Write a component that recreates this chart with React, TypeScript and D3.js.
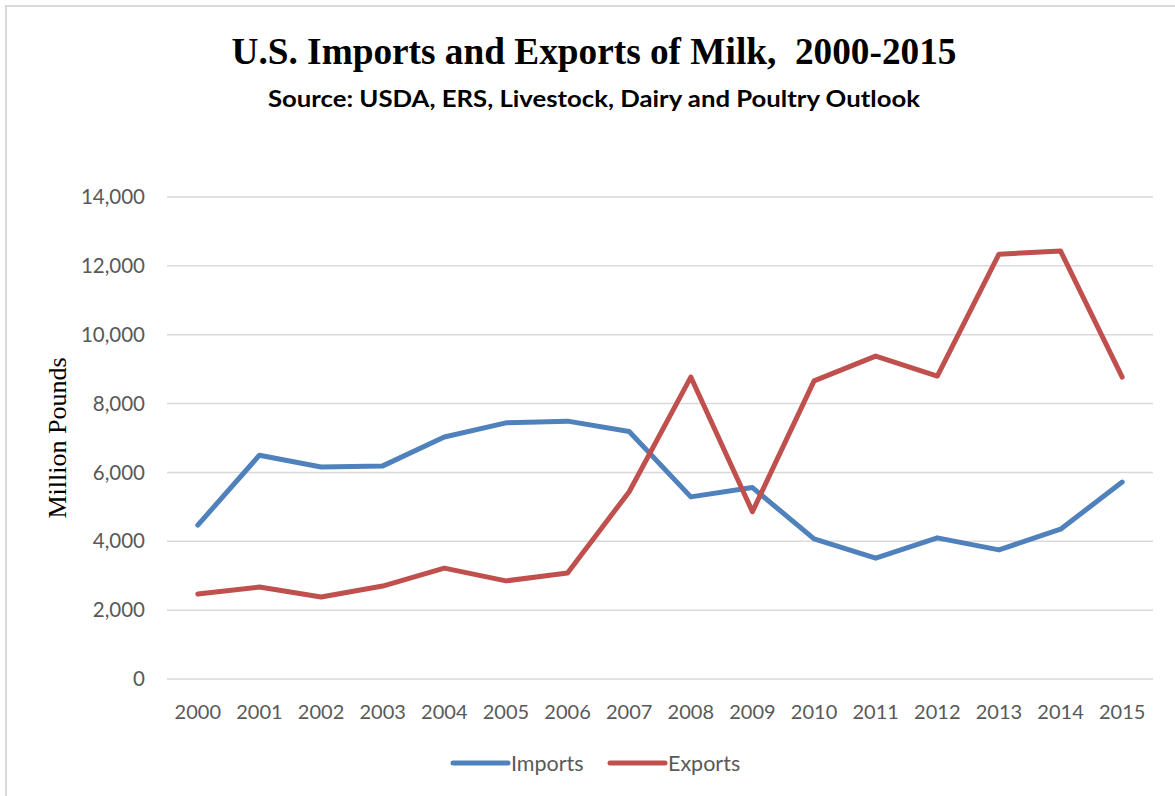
import React from "react";
import * as d3 from "d3";

const years = ["2000","2001","2002","2003","2004","2005","2006","2007","2008","2009","2010","2011","2012","2013","2014","2015"];
const imports = [4470, 6500, 6160, 6190, 7030, 7440, 7490, 7190, 5290, 5560, 4070, 3510, 4100, 3750, 4350, 5720];
const exports = [2470, 2670, 2380, 2700, 3220, 2850, 3080, 5440, 8770, 4860, 8660, 9380, 8800, 12340, 12430, 8770];
const yTicks = [0, 2000, 4000, 6000, 8000, 10000, 12000, 14000];
const seriesNames = ["Imports", "Exports"];
const seriesColors = ["#4f81bd", "#c0504d"];

const W = 1175, H = 796;
const left = 167, right = 1153, top = 197, bottom = 679;

export default function App() {
  const x = d3.scaleBand<string>().domain(years).range([left, right]);
  const y = d3.scaleLinear().domain([0, 14000]).range([bottom, top]);
  const line = d3.line<number>()
    .x((_, i) => (x(years[i]) as number) + x.bandwidth() / 2)
    .y((d) => y(d));
  const fmt = d3.format(",");
  const series = [imports, exports];
  const legendX = [453, 610];
  return (
    <svg width={W} height={H} style={{ position: "absolute", left: 0, top: 0, background: "#fff" }}>
      <rect x={0} y={0} width={W} height={H} fill="#fff" />
      <rect x={6} y={6} width={W + 10} height={H + 10} fill="none" stroke="#d9d9d9" strokeWidth={2} />
      <text x={594} y={64} textAnchor="middle" fontFamily="'Liberation Serif', 'DejaVu Serif', serif" fontWeight="bold" fontSize={38} fill="#000" textLength={725} lengthAdjust="spacingAndGlyphs" style={{ whiteSpace: "pre" }}>{"U.S. Imports and Exports of Milk,  2000-2015"}</text>
      <text x={594} y={107} textAnchor="middle" fontFamily="Lato, 'Open Sans', sans-serif" fontWeight="bold" fontSize={22} fill="#000" textLength={652} lengthAdjust="spacingAndGlyphs">Source: USDA, ERS, Livestock, Dairy and Poultry Outlook</text>
      {yTicks.map((t) => (
        <g key={t}>
          <line x1={left} x2={right} y1={y(t)} y2={y(t)} stroke="#d9d9d9" strokeWidth={1.5} />
          <text x={145} y={y(t)} dy="0.35em" textAnchor="end" fontFamily="Lato, 'Open Sans', sans-serif" fontSize={20.5} fill="#595959">{fmt(t)}</text>
        </g>
      ))}
      {years.map((yr) => (
        <text key={yr} x={(x(yr) as number) + x.bandwidth() / 2} y={712} dy="0.35em" textAnchor="middle" fontFamily="Lato, 'Open Sans', sans-serif" fontSize={20} fill="#595959">{yr}</text>
      ))}
      <text transform={`translate(66,438) rotate(-90)`} textAnchor="middle" fontFamily="'Liberation Serif', serif" fontSize={26} fill="#000">Million Pounds</text>
      {series.map((s, i) => (
        <path key={i} d={line(s) as string} fill="none" stroke={seriesColors[i]} strokeWidth={5} strokeLinejoin="round" strokeLinecap="round" />
      ))}
      {seriesNames.map((n, i) => (
        <g key={n}>
          <line x1={legendX[i]} x2={legendX[i] + 55} y1={763} y2={763} stroke={seriesColors[i]} strokeWidth={5} strokeLinecap="round" />
          <text x={legendX[i] + 58} y={763} dy="0.35em" fontFamily="Lato, 'Open Sans', sans-serif" fontSize={21.5} fill="#595959">{n}</text>
        </g>
      ))}
    </svg>
  );
}
